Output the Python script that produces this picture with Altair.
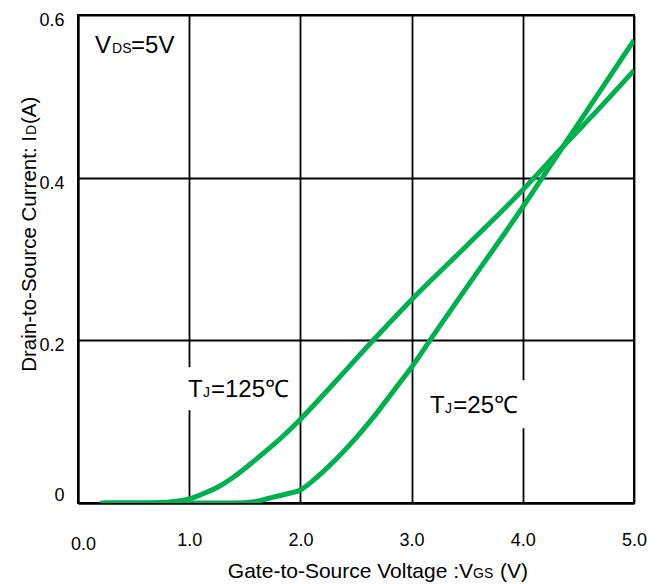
import altair as alt
import pandas as pd

# ---- data ----
vgs_25 = [0.2, 1.0, 1.4, 1.6, 1.75, 1.9, 2.0, 2.1, 2.2, 2.3, 2.4, 2.5, 2.6, 2.7, 2.8, 2.9, 3.0, 3.2, 3.5, 4.0, 4.36, 4.6, 5.0]
id_25 = [0.0, 0.0, 0.0, 0.002, 0.007, 0.012, 0.016, 0.026, 0.038, 0.051, 0.065, 0.08, 0.096, 0.113, 0.131, 0.149, 0.167, 0.207, 0.266, 0.364, 0.438, 0.487, 0.569]

vgs_125 = [0.24, 0.6, 0.8, 1.0, 1.1, 1.25, 1.4, 1.55, 1.7, 1.85, 2.0, 2.3, 2.64, 3.0, 3.5, 4.0, 4.36, 4.7, 5.0]
id_125 = [0.0, 0.0, 0.001, 0.005, 0.01, 0.019, 0.032, 0.048, 0.065, 0.083, 0.103, 0.147, 0.198, 0.25, 0.317, 0.385, 0.438, 0.487, 0.532]

x_ticks = [0, 1, 2, 3, 4, 5]
y_ticks = [0, 0.2, 0.4, 0.6]

# annotation texts (main part / subscript / rest) in data coordinates
ann_main = ["V", "T", "T"]
ann_sub = ["DS", "J", "J"]
ann_rest = ["=5V", "=125℃", "=25℃"]
ann_x = [0.153, 0.99, 3.166]
ann_sub_x = [0.306, 1.124, 3.300]
ann_rest_x = [0.477, 1.196, 3.375]
ann_y = [0.553, 0.130, 0.111]

# white label backgrounds (interrupting the grid)
box_x1 = [0.94, 3.14]
box_x2 = [1.93, 4.06]
box_y1 = [0.114, 0.092]
box_y2 = [0.167, 0.151]

GREEN = "#00b04f"

curves = pd.concat([
    pd.DataFrame({"vgs": vgs_25, "id": id_25, "tj": "25"}),
    pd.DataFrame({"vgs": vgs_125, "id": id_125, "tj": "125"}),
])
ann = pd.DataFrame({"main": ann_main, "sub": ann_sub, "rest": ann_rest,
                    "x": ann_x, "xs": ann_sub_x, "xr": ann_rest_x, "y": ann_y})
boxes = pd.DataFrame({"x1": box_x1, "x2": box_x2, "y1": box_y1, "y2": box_y2})

xscale = alt.Scale(domain=[0, 5], nice=False, zero=False)
yscale = alt.Scale(domain=[0, 0.6], nice=False)

x_axis = alt.Axis(
    values=x_ticks, format=".1f", title=None, ticks=False, labelFlush=False,
    labelFontSize=18, labelFont="Liberation Sans", labelColor="black",
    labelPadding={"condition": {"test": "datum.value == 0", "value": 32}, "value": 28},
    labelOffset={"condition": {"test": "datum.value == 0", "value": 5}, "value": 0},
    grid=True, gridColor="black", gridWidth=1.8, gridOpacity=1,
    domainColor="black", domainWidth=2,
)
y_axis = alt.Axis(
    values=y_ticks, title=None, ticks=False, labelFlush=False,
    labelExpr="datum.value == 0 ? '0' : format(datum.value, '.1f')",
    labelFontSize=18, labelFont="Liberation Sans", labelColor="black",
    labelPadding=14, labelBaseline="middle",
    labelOffset={"condition": {"test": "datum.value == 0", "value": -8}, "value": 5.5},
    grid=True, gridColor="black", gridWidth=1.8, gridOpacity=1,
    domainColor="black", domainWidth=2,
)

box_layer = alt.Chart(boxes).mark_rect(color="white").encode(
    x=alt.X("x1:Q", scale=xscale, axis=x_axis),
    x2="x2:Q",
    y=alt.Y("y1:Q", scale=yscale, axis=y_axis),
    y2="y2:Q",
)

lines = alt.Chart(curves).mark_line(
    strokeWidth=5, interpolate="monotone", clip=True, strokeCap="butt", color=GREEN
).encode(
    x=alt.X("vgs:Q", scale=xscale),
    y=alt.Y("id:Q", scale=yscale),
    detail="tj:N",
)

txt_kw = dict(font="Liberation Sans", color="black", align="left", baseline="alphabetic")
t_main = alt.Chart(ann).mark_text(fontSize=24, **txt_kw).encode(
    x=alt.X("x:Q", scale=xscale), y=alt.Y("y:Q", scale=yscale), text="main:N")
t_sub = alt.Chart(ann).mark_text(fontSize=14, **txt_kw).encode(
    x=alt.X("xs:Q", scale=xscale), y=alt.Y("y:Q", scale=yscale), text="sub:N")
t_rest = alt.Chart(ann).mark_text(fontSize=24, **txt_kw).encode(
    x=alt.X("xr:Q", scale=xscale), y=alt.Y("y:Q", scale=yscale), text="rest:N")

# axis titles with subscripts (pixel positions relative to plot origin)
xt_main = alt.Chart(pd.DataFrame({"t": ["Gate-to-Source Voltage :V"]})).mark_text(
    fontSize=21, font="Liberation Sans", color="black", align="right", baseline="alphabetic"
).encode(x=alt.value(395), y=alt.value(563), text="t:N")
xt_sub = alt.Chart(pd.DataFrame({"t": ["GS"]})).mark_text(
    fontSize=14, font="Liberation Sans", color="black", align="left", baseline="alphabetic"
).encode(x=alt.value(395), y=alt.value(563), text="t:N")
xt_rest = alt.Chart(pd.DataFrame({"t": ["(V)"]})).mark_text(
    fontSize=21, font="Liberation Sans", color="black", align="left", baseline="alphabetic"
).encode(x=alt.value(422), y=alt.value(563), text="t:N")

yt_main = alt.Chart(pd.DataFrame({"t": ["Drain-to-Source Current: I"]})).mark_text(
    fontSize=20.5, font="Liberation Sans", color="black", align="right", baseline="alphabetic", angle=270
).encode(x=alt.value(-42), y=alt.value(121), text="t:N")
yt_sub = alt.Chart(pd.DataFrame({"t": ["D"]})).mark_text(
    fontSize=14, font="Liberation Sans", color="black", align="left", baseline="alphabetic", angle=270
).encode(x=alt.value(-42), y=alt.value(120), text="t:N")
yt_rest = alt.Chart(pd.DataFrame({"t": ["(A)"]})).mark_text(
    fontSize=20.5, font="Liberation Sans", color="black", align="left", baseline="alphabetic", angle=270
).encode(x=alt.value(-42), y=alt.value(109), text="t:N")

chart = alt.layer(
    box_layer, lines, t_main, t_sub, t_rest,
    xt_main, xt_sub, xt_rest, yt_main, yt_sub, yt_rest,
).properties(
    width=556, height=488,
    autosize=alt.AutoSizeParams(type="none"),
    padding={"left": 78, "top": 15, "right": 24, "bottom": 81},
    background="white",
).configure_view(stroke="black", strokeWidth=2)

chart.save("out.html", embed_options={"renderer": "svg", "actions": False})
